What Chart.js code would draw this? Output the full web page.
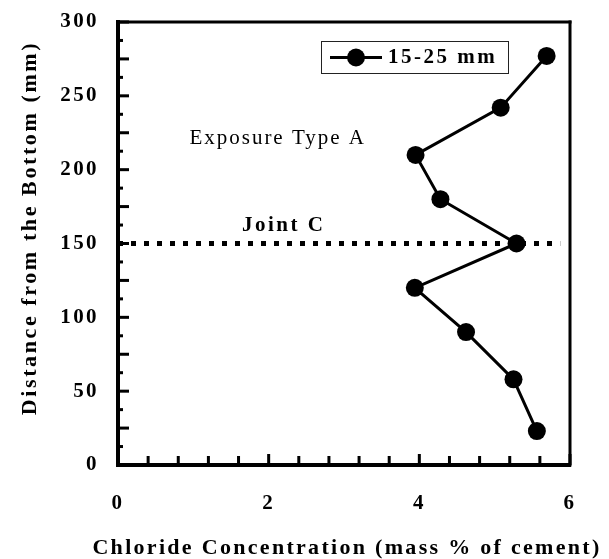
<!DOCTYPE html>
<html><head><meta charset="utf-8">
<script src="https://cdn.jsdelivr.net/npm/chart.js@4"></script>
<style>html,body{margin:0;padding:0;background:#fff}</style>
</head><body>
<canvas id="c" width="609" height="559" style="width:609px;height:559px;display:block"></canvas>
<script>
const chloride = [5.69, 5.08, 3.95, 4.28, 5.29, 3.94, 4.62, 5.25, 5.56];
const distance = [277, 242, 210, 180, 150, 120, 90, 58, 23];
const seriesLabel = '15-25 mm';
const jointX = [0, 5.87];
const jointY = [150, 150];
const xTickLabels = [0, 2, 4, 6];
const yTickLabels = [0, 50, 100, 150, 200, 250, 300];
const xTitle = 'Chloride Concentration (mass % of cement)';
const yTitle = 'Distance from the Bottom (mm)';
const noteExposure = 'Exposure Type A';
const noteJoint = 'Joint C';

const FAM = "'Liberation Serif', 'Times New Roman', serif";
Chart.defaults.font.family = FAM;
Chart.defaults.color = '#000';

const seriesPts = chloride.map((v, i) => ({x: v, y: distance[i]}));
const jointPts = jointX.map((v, i) => ({x: v, y: jointY[i]}));

const spacingPlugin = {
  id: 'spacing',
  beforeLayout(chart) { chart.ctx.letterSpacing = '2.4px'; },
  beforeDraw(chart) { chart.ctx.letterSpacing = '2.4px'; }
};

const decorPlugin = {
  id: 'decor',
  afterDraw(chart) {
    const ctx = chart.ctx, xs = chart.scales.x, ys = chart.scales.y, ca = chart.chartArea;
    ctx.save();
    ctx.fillStyle = '#000';
    // frame top and right
    ctx.fillRect(ca.left - 2, ca.top - 1.5, ca.right - ca.left + 3.5, 3);
    ctx.fillRect(ca.right - 1.5, ca.top - 1.5, 3, ca.bottom - ca.top + 3);
    // y ticks inward
    for (let v = 0; v <= 300.001; v += 12.5) {
      const py = ys.getPixelForValue(v);
      const len = (Math.abs(v % 25) < 1e-6) ? 9 : 3;
      ctx.fillRect(ca.left, py - 1.5, len + 2, 3);
    }
    // x ticks inward
    for (let k = 1; k <= 15; k++) {
      const v = k * 0.4;
      const px = xs.getPixelForValue(v);
      const len = (k % 5 === 0) ? 9 : 7;
      ctx.fillRect(px - 1.5, ca.bottom - len - 2, 3, len + 2);
    }
    ctx.textAlign = 'center';
    ctx.textBaseline = 'middle';
    // x title
    ctx.letterSpacing = '2.3px';
    ctx.font = "bold 22px " + FAM;
    ctx.fillText(xTitle, 347, 548);
    // y title
    ctx.letterSpacing = '2.6px';
    ctx.font = "bold 22px " + FAM;
    ctx.translate(30, 228);
    ctx.rotate(-Math.PI / 2);
    ctx.fillText(yTitle, 0, 0);
    ctx.setTransform(1, 0, 0, 1, 0, 0);
    // notes
    ctx.letterSpacing = '2px';
    ctx.font = "21px " + FAM;
    ctx.fillText(noteExposure, xs.getPixelForValue(2.12), ys.getPixelForValue(221));
    ctx.letterSpacing = '2.5px';
    ctx.font = "bold 21px " + FAM;
    ctx.fillText(noteJoint, xs.getPixelForValue(2.2), ys.getPixelForValue(162));
    // legend
    ctx.strokeStyle = '#222';
    ctx.lineWidth = 1;
    ctx.strokeRect(321.5, 41.5, 187, 32);
    ctx.lineWidth = 3;
    ctx.beginPath();
    ctx.moveTo(330, 57.5); ctx.lineTo(382, 57.5); ctx.strokeStyle = '#000'; ctx.stroke();
    ctx.beginPath(); ctx.arc(356, 57.5, 9, 0, Math.PI * 2); ctx.fill();
    ctx.font = "bold 21px " + FAM;
    ctx.textAlign = 'left';
    ctx.fillText(seriesLabel, 388, 58);
    ctx.restore();
  }
};

new Chart(document.getElementById('c'), {
  type: 'scatter',
  data: {
    datasets: [
      {
        label: seriesLabel,
        data: seriesPts,
        showLine: true,
        borderColor: '#000',
        backgroundColor: '#000',
        borderWidth: 3,
        pointRadius: 9,
        pointHoverRadius: 9,
        pointBorderWidth: 0,
        pointBackgroundColor: '#000'
      },
      {
        label: 'Joint C',
        data: jointPts,
        showLine: true,
        borderColor: '#000',
        borderWidth: 5,
        borderDash: [5, 8],
        borderCapStyle: 'butt',
        pointRadius: 0,
        pointHoverRadius: 0
      }
    ]
  },
  options: {
    responsive: false,
    animation: false,
    devicePixelRatio: 1,
    layout: {autoPadding: false, padding: {left: 10, top: 22, right: 39, bottom: 0}},
    plugins: {legend: {display: false}, tooltip: {enabled: false}},
    scales: {
      x: {
        type: 'linear', min: 0, max: 6,
        afterFit(s) { s.height = 94; s.paddingLeft = 0; s.paddingRight = 0; },
        afterBuildTicks(s) { s.ticks = xTickLabels.map(v => ({value: v})); },
        grid: {display: false, drawTicks: false},
        border: {display: true, color: '#000', width: 4},
        ticks: {padding: 26, font: {size: 21, weight: 'bold'}, color: '#000'},
        title: {display: false, text: xTitle}
      },
      y: {
        type: 'linear', min: 0, max: 300,
        afterFit(s) { s.width = 108; s.paddingTop = 0; s.paddingBottom = 0; },
        afterBuildTicks(s) { s.ticks = yTickLabels.map(v => ({value: v})); },
        grid: {display: false, drawTicks: false},
        border: {display: true, color: '#000', width: 4},
        ticks: {padding: 19, font: {size: 21, weight: 'bold'}, color: '#000'},
        title: {display: false, text: yTitle}
      }
    }
  },
  plugins: [spacingPlugin, decorPlugin]
});
</script>
</body></html>
